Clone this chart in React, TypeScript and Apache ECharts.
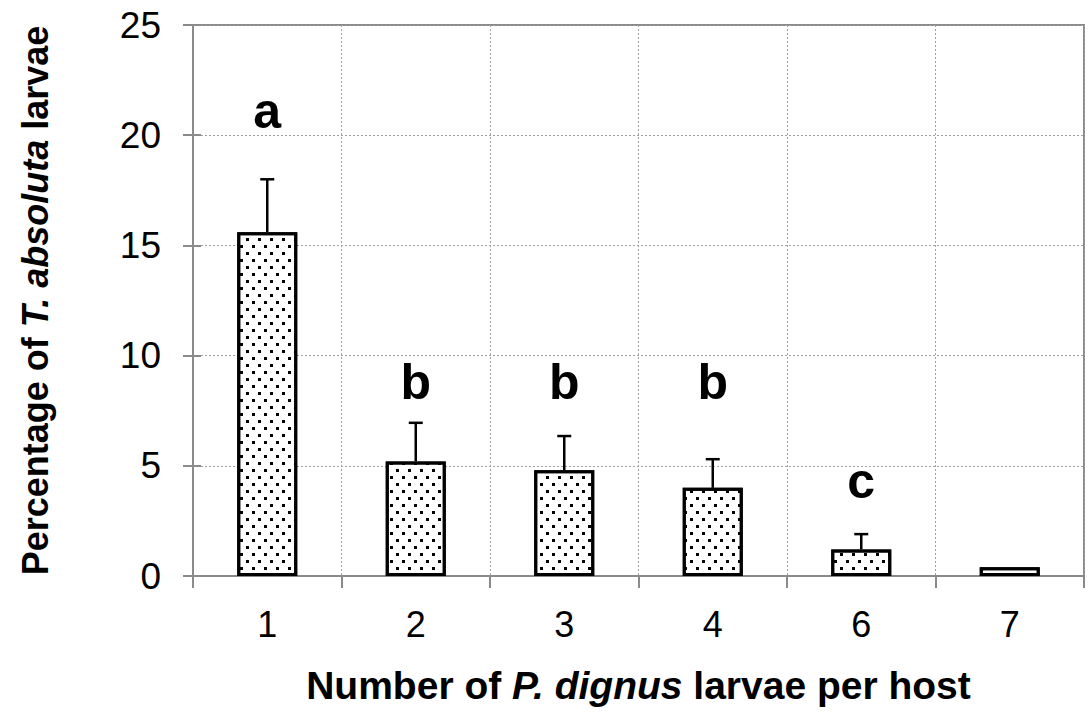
import React, { useEffect, useRef } from "react";
import * as echarts from "echarts";

const categories = ["1", "2", "3", "4", "6", "7"];
const means = [15.6, 5.2, 4.8, 4.0, 1.2, 0.4];
const errTops = [18.0, 6.95, 6.35, 5.3, 1.9, 0.4];
const letters = ["a", "b", "b", "b", "c", ""];
const letterY = [21.1, 8.8, 8.8, 8.8, 4.3, 0];
const yTicks = [0, 5, 10, 15, 20, 25];

const FONT = "'Liberation Sans', Arial, sans-serif";

export default function App() {
  const ref = useRef<HTMLDivElement>(null);
  useEffect(() => {
    if (!ref.current) return;
    const chart = echarts.init(ref.current, null, { renderer: "svg" });
    const grid = { left: 193, right: 7, top: 25, bottom: 139, show: true, borderColor: "#8a8a8a", borderWidth: 2, backgroundColor: "#fff" };
    const option: any = {
      animation: false,
      backgroundColor: "#fff",
      grid,
      xAxis: {
        type: "category",
        data: categories,
        axisLine: { show: true, lineStyle: { color: "#8a8a8a", width: 2 } },
        axisTick: { show: true, length: 12, interval: 0, alignWithLabel: false, lineStyle: { color: "#8a8a8a", width: 2 } },
        axisLabel: { color: "#000", fontSize: 36, fontFamily: FONT, margin: 30 },
        splitLine: { show: true, interval: 0, lineStyle: { color: "#a0a0a0", type: [2, 2], width: 1 } },
        name: "{b|Number of }{i|P. dignus}{b| larvae per host}",
        nameLocation: "middle",
        nameGap: 90,
        nameTextStyle: {
          rich: {
            b: { fontSize: 39, fontWeight: "bold", fontFamily: FONT, color: "#000" },
            i: { fontSize: 39, fontWeight: "bold", fontStyle: "italic", fontFamily: FONT, color: "#000" },
          },
        },
      },
      yAxis: [
        {
          type: "value",
          min: yTicks[0],
          max: yTicks[yTicks.length - 1],
          interval: 5,
          axisLine: { show: true, lineStyle: { color: "#8a8a8a", width: 2 } },
          axisTick: { show: true, length: 10, lineStyle: { color: "#8a8a8a", width: 2 } },
          axisLabel: { color: "#000", fontSize: 37, fontFamily: FONT, margin: 32 },
          splitLine: { show: true, lineStyle: { color: "#a0a0a0", type: [2, 2], width: 1 } },
          name: "{b|Percentage of }{i|T. absoluta}{b| larvae}",
          nameLocation: "middle",
          nameRotate: 90,
          nameGap: 140,
          nameTextStyle: {
            rich: {
              b: { fontSize: 36, fontWeight: "bold", fontFamily: FONT, color: "#000" },
              i: { fontSize: 36, fontWeight: "bold", fontStyle: "italic", fontFamily: FONT, color: "#000" },
            },
          },
        },
        {
          type: "value",
          position: "left",
          min: yTicks[0],
          max: yTicks[yTicks.length - 1],
          interval: 5,
          axisLine: { show: false },
          axisTick: { show: true, inside: true, length: 8, lineStyle: { color: "#8a8a8a", width: 2 } },
          axisLabel: { show: false },
          splitLine: { show: false },
        },
      ],
      series: [
        {
          type: "bar",
          data: means,
          barWidth: 60,
          itemStyle: {
            color: "#fff",
            borderColor: "#000",
            borderWidth: 3,
            decal: {
              symbol: "rect",
              symbolSize: 1,
              color: "#000",
              backgroundColor: "#fff",
              dashArrayX: [[3, 9], [0, 6, 3, 3]],
              dashArrayY: [3, 4],
              rotation: 0,
            },
          },
          z: 2,
        },
        {
          type: "custom",
          z: 3,
          data: means.map((m, i) => [i, m, errTops[i]]),
          renderItem: (params: any, api: any) => {
            const i = api.value(0);
            const m = api.value(1);
            const t = api.value(2);
            if (t <= m) return { type: "group", children: [] };
            const p0 = api.coord([i, m]);
            const p1 = api.coord([i, t]);
            const style = { stroke: "#000", lineWidth: 2.5 };
            return {
              type: "group",
              children: [
                { type: "line", shape: { x1: p0[0], y1: p0[1], x2: p1[0], y2: p1[1] }, style },
                { type: "line", shape: { x1: p1[0] - 7, y1: p1[1], x2: p1[0] + 7, y2: p1[1] }, style },
              ],
            };
          },
        },
        {
          type: "scatter",
          symbolSize: 0,
          z: 4,
          itemStyle: { opacity: 1 },
          data: letters.map((l, i) => ({ value: [i, letterY[i]], name: l })),
          label: {
            show: true,
            position: "inside",
            formatter: (p: any) => p.name,
            fontSize: 50,
            fontWeight: "bold",
            fontFamily: FONT,
            color: "#000",
            opacity: 1,
          },
        },
      ],
    };
    chart.setOption(option);
    return () => chart.dispose();
  }, []);
  return <div ref={ref} style={{ width: 1091, height: 715, position: "absolute", left: 0, top: 0 }} />;
}
